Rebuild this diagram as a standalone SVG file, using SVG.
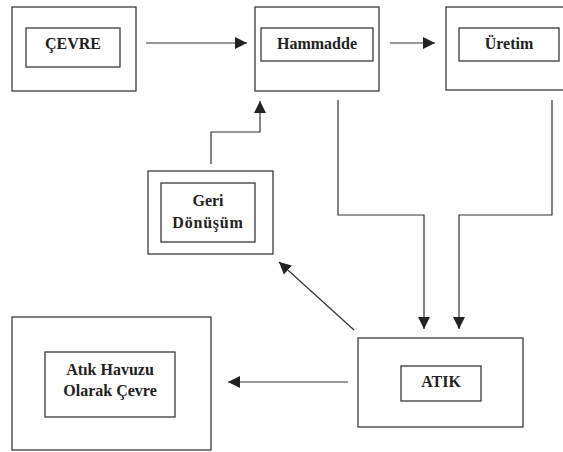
<svg xmlns="http://www.w3.org/2000/svg" width="563" height="452" viewBox="0 0 563 452">
<defs>
<style>
.box{fill:none;stroke:#3a3a3a;stroke-width:1.3}
.ln{fill:none;stroke:#333;stroke-width:1.2}
.t{font-family:'Liberation Serif','DejaVu Serif',serif;font-weight:700;font-size:16px;fill:#222;text-anchor:middle}
</style>
<marker id="ah" viewBox="0 0 12 12" refX="12" refY="6" markerWidth="12" markerHeight="12" markerUnits="userSpaceOnUse" orient="auto">
<path d="M0,0 L12,6 L0,12 Z" fill="#222"/>
</marker>
</defs>
<rect width="563" height="452" fill="#fff"/>
<g id="cevre">
<rect class="box" x="12" y="7" width="124" height="84"/>
<rect class="box" x="26" y="28" width="94" height="39"/>
<text class="t" x="73" y="49">ÇEVRE</text>
</g>
<g id="hammadde">
<rect class="box" x="255" y="7" width="124" height="84"/>
<rect class="box" x="261" y="28" width="112" height="33"/>
<text class="t" x="317" y="49">Hammadde</text>
</g>
<g id="uretim">
<rect class="box" x="446" y="7" width="130" height="83"/>
<rect class="box" x="459" y="28" width="100" height="33"/>
<text class="t" x="509" y="49">Üretim</text>
</g>
<g id="geri-donusum">
<rect class="box" x="148" y="171" width="125" height="83"/>
<rect class="box" x="161" y="183" width="94" height="59"/>
<text class="t" x="208" y="206">Geri</text>
<text class="t" x="208" y="228" letter-spacing="0.8">Dönüşüm</text>
</g>
<g id="atik-havuzu">
<rect class="box" x="12" y="317" width="199" height="133"/>
<rect class="box" x="45" y="352" width="130" height="65"/>
<text class="t" x="110" y="375">Atık Havuzu</text>
<text class="t" x="110" y="396">Olarak Çevre</text>
</g>
<g id="atik">
<rect class="box" x="358" y="338" width="165" height="89"/>
<rect class="box" x="401" y="366" width="80" height="35"/>
<text class="t" x="441" y="387">ATIK</text>
</g>
<g id="connectors">
<line class="ln" x1="146" y1="43" x2="247" y2="43" marker-end="url(#ah)"/>
<line class="ln" x1="390" y1="43" x2="435" y2="43" marker-end="url(#ah)"/>
<polyline class="ln" points="211,164 211,132 260,132 260,101" marker-end="url(#ah)"/>
<polyline class="ln" points="338,100 338,215 424,215 424,329" marker-end="url(#ah)"/>
<polyline class="ln" points="552,100 552,215 459,215 459,329" marker-end="url(#ah)"/>
<line class="ln" x1="354" y1="330" x2="279" y2="262" marker-end="url(#ah)"/>
<line class="ln" x1="348" y1="382" x2="228" y2="382" marker-end="url(#ah)"/>
</g>
</svg>
